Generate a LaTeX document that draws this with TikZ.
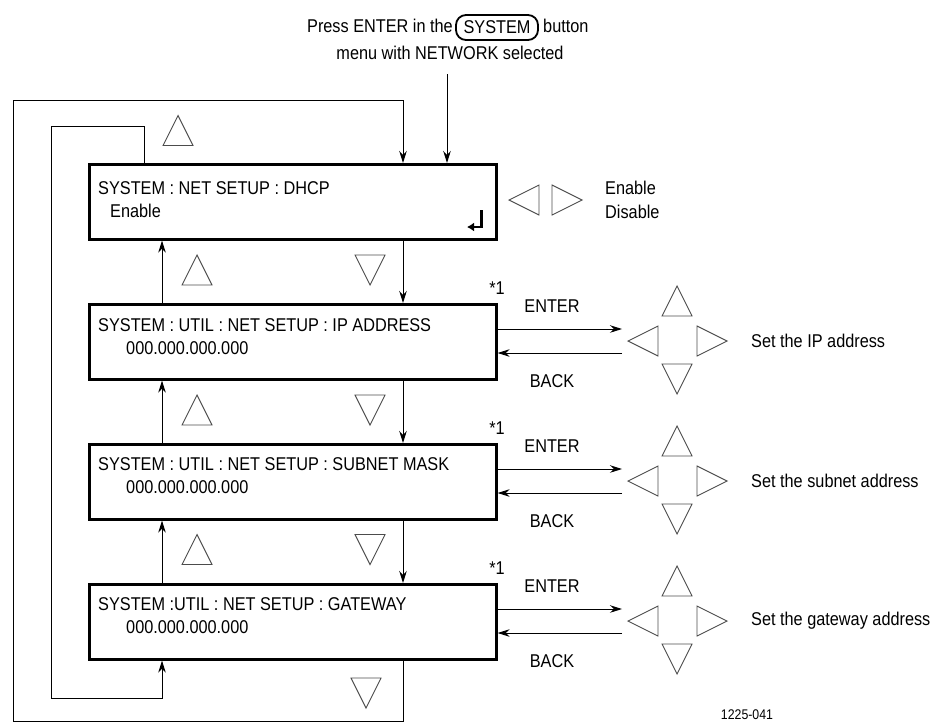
\documentclass[tikz,border=0pt]{standalone}
\usepackage{fontspec}
\setmainfont{Liberation Sans}[FakeStretch=0.88]
\usetikzlibrary{arrows.meta}
\newcommand\TriU[2]{\draw[tri] ({#1-15},{#2+15}) -- ({#1},{#2-15}) -- ({#1+15},{#2+15}) -- cycle;}
\newcommand\TriD[2]{\draw[tri] ({#1-15},{#2-15}) -- ({#1},{#2+15}) -- ({#1+15},{#2-15}) -- cycle;}
\newcommand\TriL[2]{\draw[tri] ({#1+15},{#2-15}) -- ({#1-15},{#2}) -- ({#1+15},{#2+15}) -- cycle;}
\newcommand\TriR[2]{\draw[tri] ({#1-15},{#2-15}) -- ({#1+15},{#2}) -- ({#1-15},{#2+15}) -- cycle;}
\newcommand\PadCross[2]{\TriU{#1}{#2-40}\TriD{#1}{#2+38}\TriL{#1-34}{#2}\TriR{#1+35}{#2}}
\begin{document}
\begin{tikzpicture}[x=1pt,y=-1pt,
  every node/.style={font=\fontsize{18.5}{20}\selectfont, inner sep=0pt},
  menubox/.style={draw, line width=2.6pt, minimum width=407pt, minimum height=75pt, anchor=north west},
  conn/.style={line width=1pt, -{Stealth[length=12pt,width=7.5pt]}},
  tri/.style={draw=black!70, line width=0.9pt},
  lbl/.style={anchor=west}
]
\useasboundingbox (0,0) rectangle (941,723);

% top caption
\node[anchor=east] (t1) at (453,26) {Press ENTER in the};
\node[draw, rounded corners=10pt, line width=1.8pt, minimum width=82pt, minimum height=25pt] (sys) at (497,27.5) {SYSTEM};
\node[anchor=west] (t2) at (543,26) {button};
\node (t3) at (450,53) {menu with NETWORK selected};

% menu boxes
\node[menubox] (b1) at (88,163) {};
\node[menubox] (b2) at (88,303) {};
\node[menubox] (b3) at (88,443) {};
\node[menubox] (b4) at (88,583) {};

\node[lbl] (b1a) at (98,188) {SYSTEM : NET SETUP : DHCP};
\node[lbl] (b1b) at (110,211) {Enable};
\node[lbl] (b2a) at (98,325) {SYSTEM : UTIL : NET SETUP : IP ADDRESS};
\node[lbl] (b2b) at (126,348) {000.000.000.000};
\node[lbl] (b3a) at (98,464) {SYSTEM : UTIL : NET SETUP : SUBNET MASK};
\node[lbl] (b3b) at (126,487) {000.000.000.000};
\node[lbl] (b4a) at (98,604) {SYSTEM :UTIL : NET SETUP : GATEWAY};
\node[lbl] (b4b) at (126,627) {000.000.000.000};

% return symbol
\draw[line width=2.6pt, -{Latex[length=7pt,width=9pt]}] (481.5,210) -- (481.5,227) -- (467,227);

% column coordinates
\coordinate (dx) at (403,0);
\coordinate (upx) at (162,0);
\coordinate (ux) at (144,0);
\coordinate (ex) at (447,74);

% entry arrow
\draw[conn] (ex) -- (b1.north -| ex);

% down / up connectors between boxes
\draw[conn] (b1.south -| dx) -- (b2.north -| dx);
\draw[conn] (b2.south -| dx) -- (b3.north -| dx);
\draw[conn] (b3.south -| dx) -- (b4.north -| dx);
\draw[conn] (b2.north -| upx) -- (b1.south -| upx);
\draw[conn] (b3.north -| upx) -- (b2.south -| upx);
\draw[conn] (b4.north -| upx) -- (b3.south -| upx);

% outer loops
\coordinate (lA) at (13,721);
\coordinate (lB) at (13,100);
\draw[conn] (b4.south -| dx) |- (lA) -- (lB) -| (b1.north -| dx);
\coordinate (mA) at (51,126);
\coordinate (mB) at (51,698);
\draw[conn] (b1.north -| ux) |- (mA) -- (mB) -| (b4.south -| upx);

% triangles along the loop
\TriU{178}{130.5}
\TriU{197}{270}\TriD{370}{270}
\TriU{197}{410}\TriD{370}{410}
\TriU{197}{549.5}\TriD{370}{549.5}
\TriD{366}{693}

% DHCP choices
\TriL{524}{200}\TriR{567}{200}
\node[lbl] (en) at (605,188) {Enable};
\node[lbl] (dis) at (605,212) {Disable};

% ENTER / BACK rows
\foreach \b/\t/\txt in {b2/303/Set the IP address, b3/443/Set the subnet address, b4/583/Set the gateway address}{
  \coordinate (e\b) at (622,\t+26);
  \coordinate (k\b) at (622,\t+50);
  \draw[conn] (\b.east |- e\b) -- (e\b);
  \draw[conn] (k\b) -- (\b.east |- k\b);
  \node (ent\b) at (552,\t+3) {ENTER};
  \node (bak\b) at (552,\t+78) {BACK};
  \node (st\b) at (497,\t-15) {*1};
  \node[lbl] (set\b) at (751,\t+38) {\txt};
  \PadCross{677}{\t+38}
}

\node[font=\fontsize{14}{16}\selectfont] (fig) at (747,715) {1225-041};
\end{tikzpicture}
\end{document}
